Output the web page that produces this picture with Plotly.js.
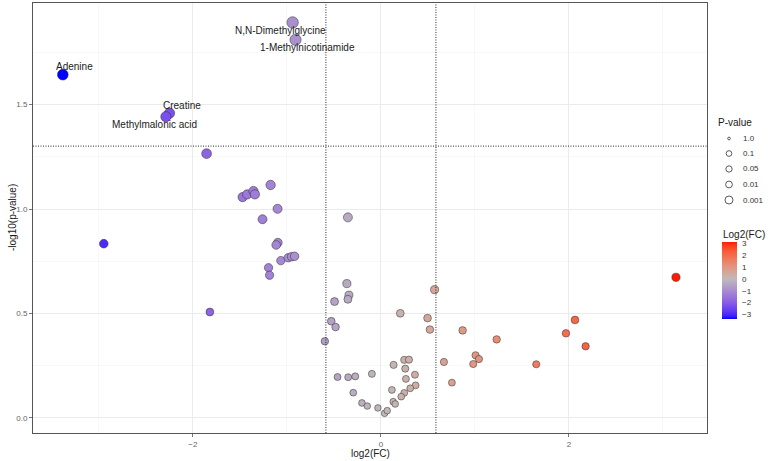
<!DOCTYPE html>
<html>
<head>
<meta charset="utf-8">
<script src="https://cdn.plot.ly/plotly-3.0.1.min.js"></script>
<style>html,body{margin:0;padding:0;background:#fff;}#chart{width:768px;height:461px;}</style>
</head>
<body>
<div id="chart"></div>
<script>
// ---------------- data ----------------
// log2 fold change of each metabolite
const log2FC = [
  -3.383, -2.248, -2.287, -0.939, -0.908,
  -2.947, -1.854, -1.819, -1.471, -1.422, -1.355, -1.340, -1.173, -1.099, -1.259,
  -1.096, -1.114, -1.064, -0.986, -0.950, -0.918, -1.195, -1.184,
  -0.351, -0.362, -0.340, -0.351, -0.493, -0.528, -0.482, -0.596,
  0.206, 0.571, 0.496, 0.521, 0.670, 0.755,
  -0.461, -0.348, -0.273, -0.096, -0.294, -0.202, -0.145, -0.032, 0.039, 0.067,
  0.135, 0.248, 0.298, 0.259, 0.266, 0.362, 0.369, 0.312, 0.117, 0.248, 0.216, 0.131, 0.152,
  0.869, 1.007, 1.043, 0.982, 1.231, 1.652, 1.968, 2.064, 2.177, 3.138
];
// -log10(p-value) of each metabolite
const negLog10P = [
  1.643, 1.459, 1.442, 1.893, 1.810,
  0.834, 1.265, 0.507, 1.057, 1.070, 1.086, 1.070, 1.115, 1.001, 0.951,
  0.839, 0.828, 0.753, 0.767, 0.772, 0.774, 0.719, 0.683,
  0.960, 0.643, 0.588, 0.568, 0.557, 0.463, 0.435, 0.367,
  0.501, 0.614, 0.478, 0.423, 0.268, 0.169,
  0.196, 0.195, 0.199, 0.211, 0.121, 0.072, 0.057, 0.048, 0.022, 0.035,
  0.254, 0.278, 0.279, 0.236, 0.187, 0.207, 0.156, 0.142, 0.134, 0.120, 0.102, 0.078, 0.067,
  0.419, 0.300, 0.282, 0.258, 0.376, 0.257, 0.405, 0.469, 0.343, 0.673
];
// names of the labelled (significant) metabolites = first entries of the arrays above
const labelNames = ["Adenine", "Creatine", "Methylmalonic acid", "N,N-Dimethylglycine", "1-Methylnicotinamide"];
// thresholds
const fcThreshold = Math.log2(1.5);
const pThreshold = 0.05;
// legend keys / tick labels
const pLegendLabels = ["1.0", "0.1", "0.05", "0.01", "0.001"];
const fcColorTicks = [-3, -2, -1, 0, 1, 2, 3];
const xTickVals = [-2, 0, 2];
const yTickVals = [0, 0.5, 1.0, 1.5];
const xTitle = "log2(FC)", yTitle = "-log10(p-value)";
const sizeTitle = "P-value", colorTitle = "Log2(FC)";

// ---------------- styles ----------------
const L = 33, T = 3, W = 674, H = 430;      // plot area in px
const px2x = p => (p - L) / W;
const px2y = p => (T + H - p) / H;
const labelShift = [[12, 8], [12, 8], [-11, -8], [-12, -8], [11.5, -7.5]];
const pLegendDiam = [2.7, 5.7, 6.3, 6.8, 8.0];
const FONT = "Liberation Sans, Arial, sans-serif";

// Lab-space diverging gradient (low blue, mid grey, high red)
function hex2rgb(h){return [1,3,5].map(i=>parseInt(h.substr(i,2),16));}
function s2l(c){c/=255;return c<=0.04045?c/12.92:Math.pow((c+0.055)/1.055,2.4);}
function l2s(c){c=c<=0.0031308?12.92*c:1.055*Math.pow(c,1/2.4)-0.055;return Math.round(Math.max(0,Math.min(1,c))*255);}
const Xn=0.95047,Yn=1,Zn=1.08883;
function f(t){return t>0.008856?Math.cbrt(t):7.787*t+16/116;}
function finv(t){const t3=t*t*t;return t3>0.008856?t3:(t-16/116)/7.787;}
function rgb2lab(rgb){
  const [r,g,b]=rgb.map(s2l);
  const X=(0.4124*r+0.3576*g+0.1805*b)/Xn, Y=(0.2126*r+0.7152*g+0.0722*b)/Yn, Z=(0.0193*r+0.1192*g+0.9505*b)/Zn;
  return [116*f(Y)-16, 500*(f(X)-f(Y)), 200*(f(Y)-f(Z))];
}
function lab2rgb(lab){
  const fy=(lab[0]+16)/116, fx=fy+lab[1]/500, fz=fy-lab[2]/200;
  const X=finv(fx)*Xn, Y=finv(fy)*Yn, Z=finv(fz)*Zn;
  const r=3.2406*X-1.5372*Y-0.4986*Z, g=-0.9689*X+1.8758*Y+0.0415*Z, b=0.0557*X-0.2040*Y+1.0570*Z;
  return 'rgb('+l2s(r)+','+l2s(g)+','+l2s(b)+')';
}
const labs=["#0000FF","#BEBABA","#FF1A00"].map(h=>rgb2lab(hex2rgb(h)));
function grad(t){
  let a,b,u;
  if(t<=0.5){a=labs[0];b=labs[1];u=t/0.5;}else{a=labs[1];b=labs[2];u=(t-0.5)/0.5;}
  return lab2rgb([0,1,2].map(i=>a[i]+(b[i]-a[i])*u));
}
const fcMin=Math.min(...log2FC), fcMax=Math.max(...log2FC);
const N=40, colorscale=[];
for(let k=0;k<=N;k++){
  const v=fcMin+(fcMax-fcMin)*k/N;
  const t = v < 0 ? 0.5*(v-fcMin)/(-fcMin) : 0.5 + 0.5*v/fcMax;
  colorscale.push([k/N, grad(t)]);
}

const sizes = negLog10P.map(v => 6.5 + 2.6*v);

const trace = {
  type: 'scatter', mode: 'markers',
  x: log2FC, y: negLog10P,
  hoverinfo: 'skip',
  showlegend: false,
  marker: {
    size: sizes, opacity: 1, color: log2FC, colorscale: colorscale, cmin: fcMin, cmax: fcMax,
    line: {color: 'rgba(45,45,45,0.85)', width: 0.6},
    colorbar: {
      x: px2x(722), xanchor: 'left', xpad: 0,
      y: px2y(280.5), yanchor: 'middle', ypad: 0,
      len: 77, lenmode: 'pixels', thickness: 15, thicknessmode: 'pixels',
      outlinewidth: 0,
      tickvals: fcColorTicks, ticks: 'outside', ticklen: 4, tickcolor: 'rgba(255,255,255,0)', tickwidth: 1,
      tickfont: {family: FONT, size: 8, color: '#333'},
      title: {text: ''}
    }
  }
};

const annotations = labelNames.map((nm, i) => ({
  x: log2FC[i], y: negLog10P[i], xref: 'x', yref: 'y',
  text: nm, showarrow: false, xshift: labelShift[i][0], yshift: labelShift[i][1],
  font: {family: FONT, size: 10, color: '#1a1a1a'}
}));
// axis titles
annotations.push({x: px2x(370), y: px2y(454), xref: 'paper', yref: 'paper', xanchor: 'center', yanchor: 'middle',
  text: xTitle, showarrow: false, font: {family: FONT, size: 10, color: '#1a1a1a'}});
annotations.push({x: px2x(12), y: px2y(218), xref: 'paper', yref: 'paper', xanchor: 'center', yanchor: 'middle',
  text: yTitle, textangle: -90, showarrow: false, font: {family: FONT, size: 10, color: '#1a1a1a'}});
// legend titles
annotations.push({x: px2x(716), y: px2y(122), xref: 'paper', yref: 'paper', xanchor: 'left', yanchor: 'middle',
  text: sizeTitle, showarrow: false, font: {family: FONT, size: 10, color: '#1a1a1a'}});
annotations.push({x: px2x(721), y: px2y(234), xref: 'paper', yref: 'paper', xanchor: 'left', yanchor: 'middle',
  text: colorTitle, showarrow: false, font: {family: FONT, size: 10, color: '#1a1a1a'}});

const dotLine = {color: '#111', width: 0.9, dash: '1px,1.5px'};
const shapes = [
  {type: 'line', xref: 'x', yref: 'paper', x0: -fcThreshold, x1: -fcThreshold, y0: 0, y1: 1, line: dotLine},
  {type: 'line', xref: 'x', yref: 'paper', x0: fcThreshold, x1: fcThreshold, y0: 0, y1: 1, line: dotLine},
  {type: 'line', xref: 'paper', yref: 'y', x0: 0, x1: 1, y0: -Math.log10(pThreshold), y1: -Math.log10(pThreshold), line: dotLine}
];
// P-value size legend
const legY = [138.5, 153.5, 169, 184.5, 200];
pLegendLabels.forEach((lab, i) => {
  const r = pLegendDiam[i] / 2;
  shapes.push({type: 'circle', xref: 'paper', yref: 'paper', xsizemode: 'pixel', ysizemode: 'pixel',
    xanchor: px2x(729), yanchor: px2y(legY[i]), x0: -r, x1: r, y0: -r, y1: r,
    line: {color: '#333', width: 0.8}, fillcolor: '#fff'});
  annotations.push({x: px2x(741), y: px2y(legY[i]), xref: 'paper', yref: 'paper', xanchor: 'left', yanchor: 'middle',
    text: lab, showarrow: false, font: {family: FONT, size: 8, color: '#333'}});
});

const axisCommon = {
  showline: true, mirror: true, linecolor: '#555', linewidth: 1,
  showgrid: true, gridcolor: '#EBEBEB', gridwidth: 1,
  zeroline: false, ticks: 'outside', ticklen: 3, tickcolor: '#555', tickwidth: 0.8,
  tickfont: {family: FONT, size: 8, color: '#666'},
  automargin: false
};

const layout = {
  width: 768, height: 461,
  margin: {l: L, r: 768 - L - W, t: T, b: 461 - T - H},
  paper_bgcolor: '#fff', plot_bgcolor: '#fff',
  font: {family: FONT},
  showlegend: false,
  xaxis: Object.assign({}, axisCommon, {
    range: [-3.70, 3.468], tickvals: xTickVals,
    minor: {dtick: 1, tick0: 0, showgrid: true, gridcolor: '#F3F3F3', gridwidth: 0.6}
  }),
  yaxis: Object.assign({}, axisCommon, {
    range: [-0.072, 1.986], tickvals: yTickVals, tickformat: '.1f',
    minor: {dtick: 0.25, tick0: 0, showgrid: true, gridcolor: '#F3F3F3', gridwidth: 0.6}
  }),
  shapes: shapes,
  annotations: annotations
};

Plotly.newPlot('chart', [trace], layout, {displayModeBar: false, staticPlot: true});
</script>
</body>
</html>
